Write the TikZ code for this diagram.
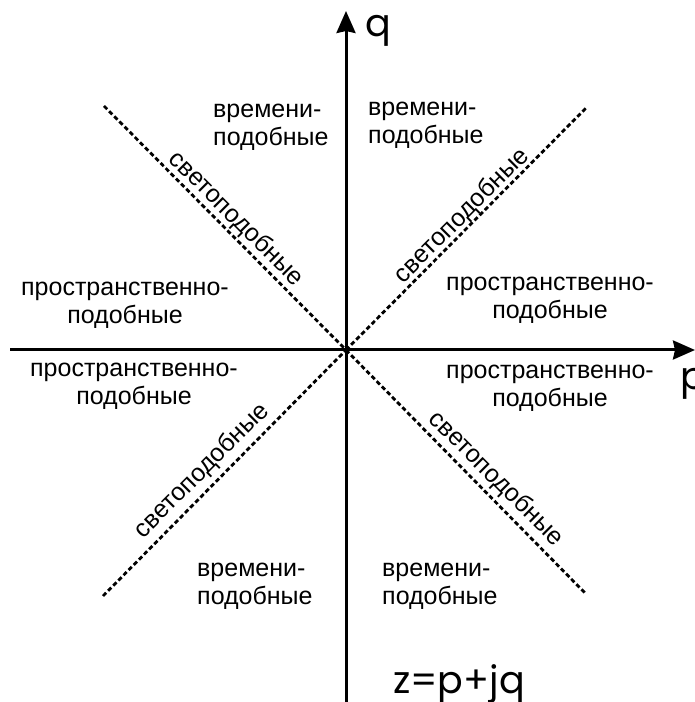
\documentclass[tikz,border=0pt]{standalone}
\usepackage{fontspec}
\setmainfont{Liberation Sans}
\newfontfamily\geofont{Poppins}
\usetikzlibrary{arrows.meta}
\tikzset{
  axis/.style={line width=3pt, -{Stealth[length=22pt,width=19pt,inset=2pt]}},
  lightcone/.style={line width=2.8pt, dash pattern=on 4.5pt off 2.8pt},
  region/.style={inner sep=0pt, font=\fontsize{25}{28}\selectfont},
  conelabel/.style={inner sep=0pt, font=\fontsize{25}{28}\selectfont},
  axislabel/.style={inner sep=0pt, font=\geofont\fontsize{38}{42}\selectfont},
}
\begin{document}
\begin{tikzpicture}[x=1pt,y=1pt]
\useasboundingbox (0,0) rectangle (695,702);
% coordinates
\coordinate (O) at (346,352);
\coordinate (qtop) at (346,691);
\coordinate (qbot) at (346,0);
\coordinate (pleft) at (10,352);
\coordinate (pright) at (695,352);
\coordinate (TL) at (104,596);
\coordinate (TR) at (587,595);
\coordinate (BL) at (103,106);
\coordinate (BR) at (586,108);
% light cone lines
\draw[lightcone] (TL) -- (O);
\draw[lightcone] (O) -- (TR);
\draw[lightcone] (BL) -- (O);
\draw[lightcone] (O) -- (BR);
% axes
\draw[axis] (qbot) -- (qtop);
\draw[axis] (pleft) -- (pright);
% axis labels
\node[axislabel, anchor=base west] (ql) at (365,665) {q};
\node[axislabel, anchor=base west] (pl) at (680,312) {p};
\node[axislabel, anchor=base west] (zl) at (393,9) {z=p+jq};
% time-like regions
\node[region, align=left, anchor=west] (t1) at (213,575) {времени-\\подобные};
\node[region, align=left, anchor=west] (t2) at (368,577) {времени-\\подобные};
\node[region, align=left, anchor=west] (t3) at (197,116) {времени-\\подобные};
\node[region, align=left, anchor=west] (t4) at (382,116) {времени-\\подобные};
% space-like regions
\node[region, align=center] (s1) at (125,397) {пространственно-\\подобные};
\node[region, align=center] (s2) at (550,402) {пространственно-\\подобные};
\node[region, align=center] (s3) at (134,316) {пространственно-\\подобные};
\node[region, align=center] (s4) at (550,314) {пространственно-\\подобные};
% light-like labels
\node[conelabel, rotate=-45] (c1) at (236,483) {светоподобные};
\node[conelabel, rotate=45] (c2) at (462,486) {светоподобные};
\node[conelabel, rotate=45] (c3) at (202,231) {светоподобные};
\node[conelabel, rotate=-45] (c4) at (496,223) {светоподобные};
\end{tikzpicture}
\end{document}
